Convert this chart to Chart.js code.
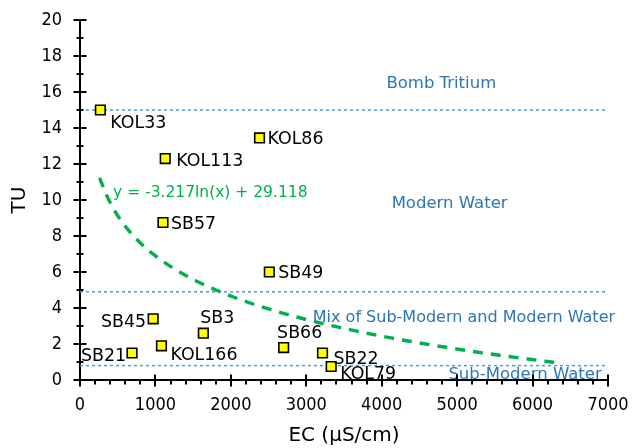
<!DOCTYPE html>
<html>
<head>
<meta charset="utf-8">
<script src="https://cdn.jsdelivr.net/npm/chart.js@4.4.1/dist/chart.umd.min.js"></script>
<style>
  html, body { margin: 0; padding: 0; background: #ffffff; }
  canvas { display: block; }
</style>
</head>
<body>
<canvas id="chart" width="633" height="448"></canvas>
<script>
// Groundwater samples: electrical conductivity vs. tritium units
const sampleNames = ['KOL33', 'KOL86', 'KOL113', 'SB57', 'SB49', 'SB45', 'SB3', 'KOL166', 'SB21', 'SB66', 'SB22', 'KOL79'];
const ecValues    = [270, 2380, 1130, 1100, 2510, 970, 1635, 1080, 690, 2700, 3215, 3330];
const tuValues    = [15.0, 13.45, 12.3, 8.75, 6.0, 3.4, 2.6, 1.9, 1.5, 1.8, 1.5, 0.75];

// Axis ticks
const xTickValues = [0, 1000, 2000, 3000, 4000, 5000, 6000, 7000];
const yTickValues = [0, 2, 4, 6, 8, 10, 12, 14, 16, 18, 20];

// Logarithmic trend: y = a ln(x) + b
const trendA = -3.217;
const trendB = 29.118;
const trendFrom = 260;
const trendTo = 6320;
const trendLabel = 'y = -3.217ln(x) + 29.118';

// Water age class boundaries (TU) and class names
const boundaryTU = [15, 4.9, 0.8];
const zoneNames = ['Bomb Tritium', 'Modern Water', 'Mix of Sub-Modern and Modern Water', 'Sub-Modern Water'];
const zoneEC = [4790, 4900, 5090, 5900];
const zoneTU = [16.55, 9.9, 3.57, 0.39];

const FONT = "'DejaVu Sans', Verdana, sans-serif";
const FONT_NARROW = "'DejaVu Sans Condensed', 'DejaVu Sans', sans-serif";
const BLUE_TEXT = '#2E75B6';
const BLUE_LINE = '#4F9AD8';
const GREEN = '#00B050';

// Where each sample label sits relative to its marker (pixels)
const labelPlacement = {
  KOL33:  { align: 'left',   dx: 10,  dy: 12 },
  KOL86:  { align: 'left',   dx: 8,   dy: 0 },
  KOL113: { align: 'left',   dx: 11,  dy: 1 },
  SB57:   { align: 'left',   dx: 8,   dy: 0 },
  SB49:   { align: 'left',   dx: 9,   dy: 0 },
  SB45:   { align: 'right',  dx: -7,  dy: 1.5 },
  SB3:    { align: 'center', dx: 14,  dy: -17 },
  KOL166: { align: 'left',   dx: 9,   dy: 8 },
  SB21:   { align: 'right',  dx: -6,  dy: 2 },
  SB66:   { align: 'center', dx: 16,  dy: -16 },
  SB22:   { align: 'left',   dx: 11,  dy: 4.5 },
  KOL79:  { align: 'left',   dx: 9,   dy: 6.5 }
};

const samplePoints = ecValues.map((v, i) => ({ x: v, y: tuValues[i] }));

const trendPoints = [];
for (let i = 0; i <= 80; i++) {
  const xv = trendFrom + (trendTo - trendFrom) * i / 80;
  trendPoints.push({ x: xv, y: trendA * Math.log(xv) + trendB });
}

const boundaryDatasets = boundaryTU.map(tu => ({
  type: 'line',
  data: [{ x: 0, y: tu }, { x: 7000, y: tu }],
  borderColor: BLUE_LINE,
  borderWidth: 1.5,
  borderDash: [3, 3],
  pointRadius: 0,
  fill: false
}));

// Text labels, minor/major tick marks
const overlayPlugin = {
  id: 'overlay',
  afterDatasetsDraw(chart) {
    const { ctx } = chart;
    const xs = chart.scales.x, ys = chart.scales.y;
    ctx.save();

    // class names
    ctx.fillStyle = BLUE_TEXT;
    ctx.textAlign = 'center';
    ctx.textBaseline = 'alphabetic';
    zoneNames.forEach((name, i) => {
      ctx.font = `${name.length > 20 ? 16 : 16.5}px ${FONT}`;
      ctx.fillText(name, xs.getPixelForValue(zoneEC[i]), ys.getPixelForValue(zoneTU[i]) + 6);
    });

    // trend equation
    ctx.fillStyle = GREEN;
    ctx.font = `15.5px ${FONT}`;
    ctx.textAlign = 'left';
    ctx.fillText(trendLabel, xs.getPixelForValue(438), ys.getPixelForValue(10.46) + 5.6);

    // sample labels
    ctx.fillStyle = '#000000';
    ctx.font = `17.4px ${FONT}`;
    sampleNames.forEach((name, i) => {
      const p = labelPlacement[name];
      const px = xs.getPixelForValue(ecValues[i]) + p.dx;
      const py = ys.getPixelForValue(tuValues[i]) + p.dy;
      ctx.textAlign = p.align;
      ctx.fillText(name, px, py + 6.3);
    });
    ctx.restore();
  },
  afterDraw(chart) {
    const { ctx, chartArea } = chart;
    const xs = chart.scales.x, ys = chart.scales.y;
    ctx.save();
    ctx.strokeStyle = '#000000';
    ctx.lineWidth = 2;
    ctx.beginPath();
    // y axis ticks
    for (let v = 0; v <= 20; v += 1) {
      const py = Math.round(ys.getPixelForValue(v));
      const major = v % 2 === 0;
      const len = major ? 6.5 : 3.5;
      ctx.moveTo(chartArea.left - len, py);
      ctx.lineTo(chartArea.left + len, py);
    }
    // x axis ticks
    for (let v = 0; v <= 7000; v += 200) {
      const px = Math.round(xs.getPixelForValue(v));
      const major = v % 1000 === 0;
      if (major) {
        ctx.moveTo(px, chartArea.bottom - 5.5);
        ctx.lineTo(px, chartArea.bottom + 6.5);
      } else {
        ctx.moveTo(px, chartArea.bottom);
        ctx.lineTo(px, chartArea.bottom + 4.5);
      }
    }
    ctx.stroke();
    ctx.restore();
  }
};

new Chart(document.getElementById('chart'), {
  type: 'scatter',
  data: {
    datasets: [
      {
        label: 'Samples',
        data: samplePoints,
        pointStyle: 'rect',
        pointRadius: 6.8,
        pointHoverRadius: 6.8,
        backgroundColor: '#FFFF00',
        borderColor: '#000000',
        borderWidth: 1.6
      },
      {
        type: 'line',
        label: 'Trend',
        data: trendPoints,
        borderColor: GREEN,
        borderWidth: 3.4,
        borderDash: [10, 8],
        pointRadius: 0,
        tension: 0,
        fill: false
      },
      ...boundaryDatasets
    ]
  },
  options: {
    responsive: false,
    animation: false,
    events: [],
    layout: { padding: { left: 0, top: 20, right: 25, bottom: 0 } },
    plugins: {
      legend: { display: false },
      tooltip: { enabled: false }
    },
    scales: {
      x: {
        type: 'linear',
        min: 0,
        max: 7000,
        afterBuildTicks: s => { s.ticks = xTickValues.map(v => ({ value: v })); },
        afterFit: s => { s.height = 68; s.paddingLeft = 0; s.paddingRight = 0; },
        grid: { display: false, drawTicks: false },
        border: { display: true, color: '#000000', width: 2 },
        ticks: { padding: 15, color: '#000000', maxRotation: 0, font: { family: FONT_NARROW, size: 18 }, callback: v => String(v) },
        title: { display: true, text: 'EC (µS/cm)', color: '#000000', padding: { top: 0, bottom: 0 }, font: { family: FONT, size: 20 } }
      },
      y: {
        type: 'linear',
        min: 0,
        max: 20,
        afterBuildTicks: s => { s.ticks = yTickValues.map(v => ({ value: v })); },
        afterFit: s => { s.width = 80; s.paddingTop = 0; s.paddingBottom = 0; },
        grid: { display: false, drawTicks: false },
        border: { display: true, color: '#000000', width: 2 },
        ticks: { padding: 18, color: '#000000', font: { family: FONT_NARROW, size: 18 }, callback: v => String(v) },
        title: { display: true, text: 'TU', color: '#000000', padding: { top: 8, bottom: 0 }, font: { family: FONT, size: 20 } }
      }
    }
  },
  plugins: [overlayPlugin]
});
</script>
</body>
</html>
